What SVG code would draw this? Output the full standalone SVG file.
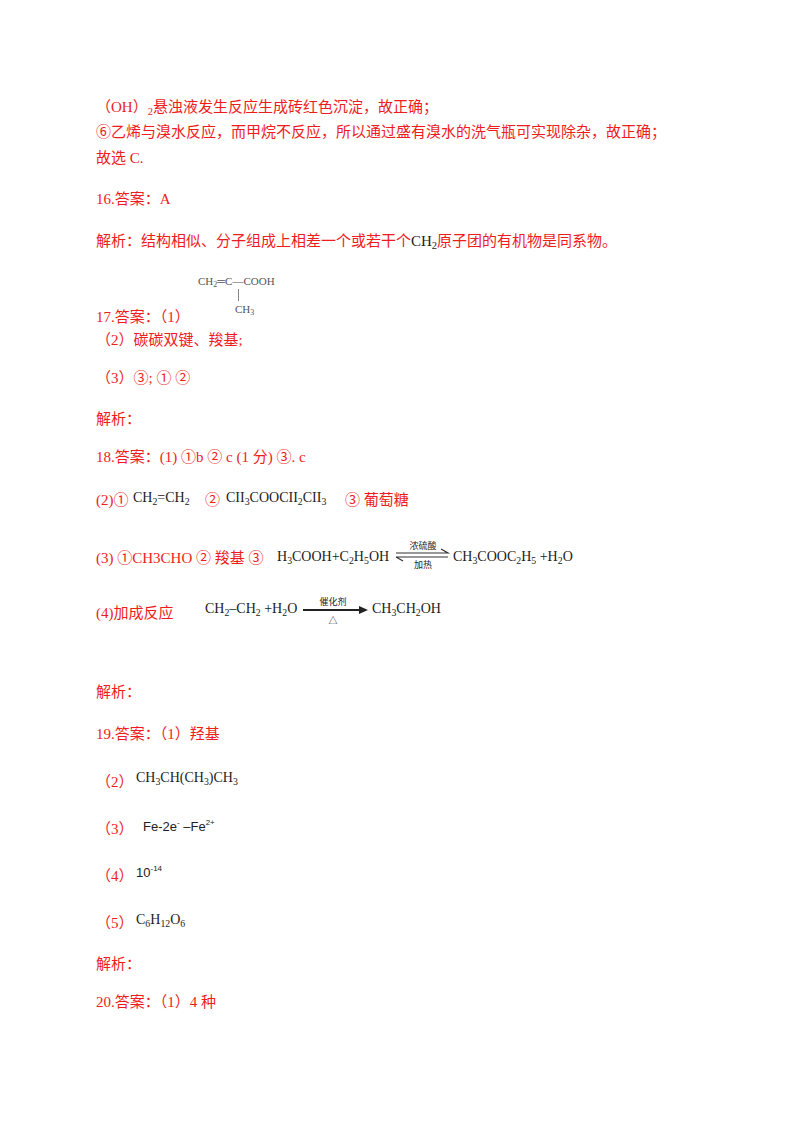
<svg xmlns="http://www.w3.org/2000/svg" width="800" height="1132" viewBox="0 0 800 1132">
<style>
.r{fill:#ee1c1c;font-family:"Liberation Serif","Noto Sans CJK SC",serif;font-size:15px}
.k{fill:#222;font-family:"Liberation Serif","Noto Sans CJK SC",serif;font-size:14px}
.g{fill:#555;font-family:"Liberation Serif",serif;font-size:11px}
.s{fill:#222;font-family:"Liberation Sans","Noto Sans CJK SC",sans-serif;font-size:9px}
.b{font-size:70%}
</style>
<rect width="800" height="1132" fill="#fff"/>
<text class="r" x="96" y="112">（OH）<tspan class="b" dy="3">2</tspan><tspan dy="-3">悬浊液发生反应生成砖红色沉淀，故正确；</tspan></text>
<text class="r" x="96" y="137">⑥乙烯与溴水反应，而甲烷不反应，所以通过盛有溴水的洗气瓶可实现除杂，故正确；</text>
<text class="r" x="96" y="163">故选 C.</text>
<text class="r" x="96" y="204">16.答案：A</text>
<text class="r" x="96" y="246">解析：结构相似、分子组成上相差一个或若干个<tspan fill="#222">CH<tspan class="b" dy="3">2</tspan></tspan><tspan dy="-3">原子团的有机物是同系物。</tspan></text>
<g id="struct">
<text class="g" x="198" y="285">CH<tspan font-size="8" dy="2">2</tspan><tspan dy="-2">═C—COOH</tspan></text>
<line x1="238.5" y1="289" x2="238.5" y2="301" stroke="#666" stroke-width="0.8"/>
<text class="g" x="235" y="313">CH<tspan font-size="8" dy="2">3</tspan></text>
</g>
<text class="r" x="96" y="322">17.答案：（1）</text>
<text class="r" x="96" y="345">（2）碳碳双键、羧基;</text>
<text class="r" x="96" y="383">（3）③; ① ②</text>
<text class="r" x="96" y="424">解析：</text>
<text class="r" x="96" y="462">18.答案：(1) ①b  ② c   (1 分) ③. c</text>
<text class="r" x="96" y="505">(2)①</text>
<text class="k" x="133" y="502">CH<tspan class="b" dy="3">2</tspan><tspan dy="-3">=CH</tspan><tspan class="b" dy="3">2</tspan></text>
<text class="r" x="205" y="505">②</text>
<text class="k" x="226" y="502">CII<tspan class="b" dy="3">3</tspan><tspan dy="-3">COOCII</tspan><tspan class="b" dy="3">2</tspan><tspan dy="-3">CII</tspan><tspan class="b" dy="3">3</tspan></text>
<text class="r" x="345" y="505">③ 葡萄糖</text>
<text class="r" x="96" y="563">(3) ①CH3CHO  ②  羧基   ③</text>
<text class="k" x="277" y="561">H<tspan class="b" dy="3">3</tspan><tspan dy="-3">COOH+C</tspan><tspan class="b" dy="3">2</tspan><tspan dy="-3">H</tspan><tspan class="b" dy="3">5</tspan><tspan dy="-3">OH</tspan></text>
<g id="eq-arrow">
<text class="s" x="423" y="549" text-anchor="middle" font-size="10">浓硫酸</text>
<path d="M396 553H448L441 549M396 557H448M403 561L396 557" fill="none" stroke="#333" stroke-width="1.2"/>
<text class="s" x="423" y="568" text-anchor="middle">加热</text>
</g>
<text class="k" x="453" y="561">CH<tspan class="b" dy="3">3</tspan><tspan dy="-3">COOC</tspan><tspan class="b" dy="3">2</tspan><tspan dy="-3">H</tspan><tspan class="b" dy="3">5</tspan><tspan dy="-3"> +H</tspan><tspan class="b" dy="3">2</tspan><tspan dy="-3">O</tspan></text>
<text class="r" x="96" y="618">(4)加成反应</text>
<text class="k" x="205" y="613">CH<tspan class="b" dy="3">2</tspan><tspan dy="-3">–CH</tspan><tspan class="b" dy="3">2</tspan><tspan dy="-3"> +H</tspan><tspan class="b" dy="3">2</tspan><tspan dy="-3">O</tspan></text>
<g id="cat-arrow">
<text class="s" x="333" y="605" text-anchor="middle">催化剂</text>
<line x1="303" y1="610" x2="360" y2="610" stroke="#222" stroke-width="2"/>
<path d="M359 606L368 610L359 614Z" fill="#222"/>
<text class="s" x="333" y="624" text-anchor="middle">△</text>
</g>
<text class="k" x="372" y="613">CH<tspan class="b" dy="3">3</tspan><tspan dy="-3">CH</tspan><tspan class="b" dy="3">2</tspan><tspan dy="-3">OH</tspan></text>
<text class="r" x="96" y="697">解析：</text>
<text class="r" x="96" y="739">19.答案：（1）羟基</text>
<text class="r" x="96" y="787">（2）</text>
<text class="k" x="136" y="782">CH<tspan class="b" dy="3">3</tspan><tspan dy="-3">CH(CH</tspan><tspan class="b" dy="3">3</tspan><tspan dy="-3">)CH</tspan><tspan class="b" dy="3">3</tspan></text>
<text class="r" x="96" y="834">（3）</text>
<text font-family="Liberation Sans,sans-serif" font-size="13" fill="#222" x="143" y="831">Fe-2e<tspan font-size="8" dy="-6">-</tspan><tspan dy="6"> –Fe</tspan><tspan font-size="8" dy="-6">2+</tspan></text>
<text class="r" x="96" y="881">（4）</text>
<text font-family="Liberation Sans,sans-serif" font-size="13" fill="#222" x="136" y="877">10<tspan font-size="8" dy="-6">-14</tspan></text>
<text class="r" x="96" y="928">（5）</text>
<text class="k" x="136" y="924">C<tspan class="b" dy="3">6</tspan><tspan dy="-3">H</tspan><tspan class="b" dy="3">12</tspan><tspan dy="-3">O</tspan><tspan class="b" dy="3">6</tspan></text>
<text class="r" x="96" y="969">解析：</text>
<text class="r" x="96" y="1007">20.答案：（1）4 种</text>
</svg>
